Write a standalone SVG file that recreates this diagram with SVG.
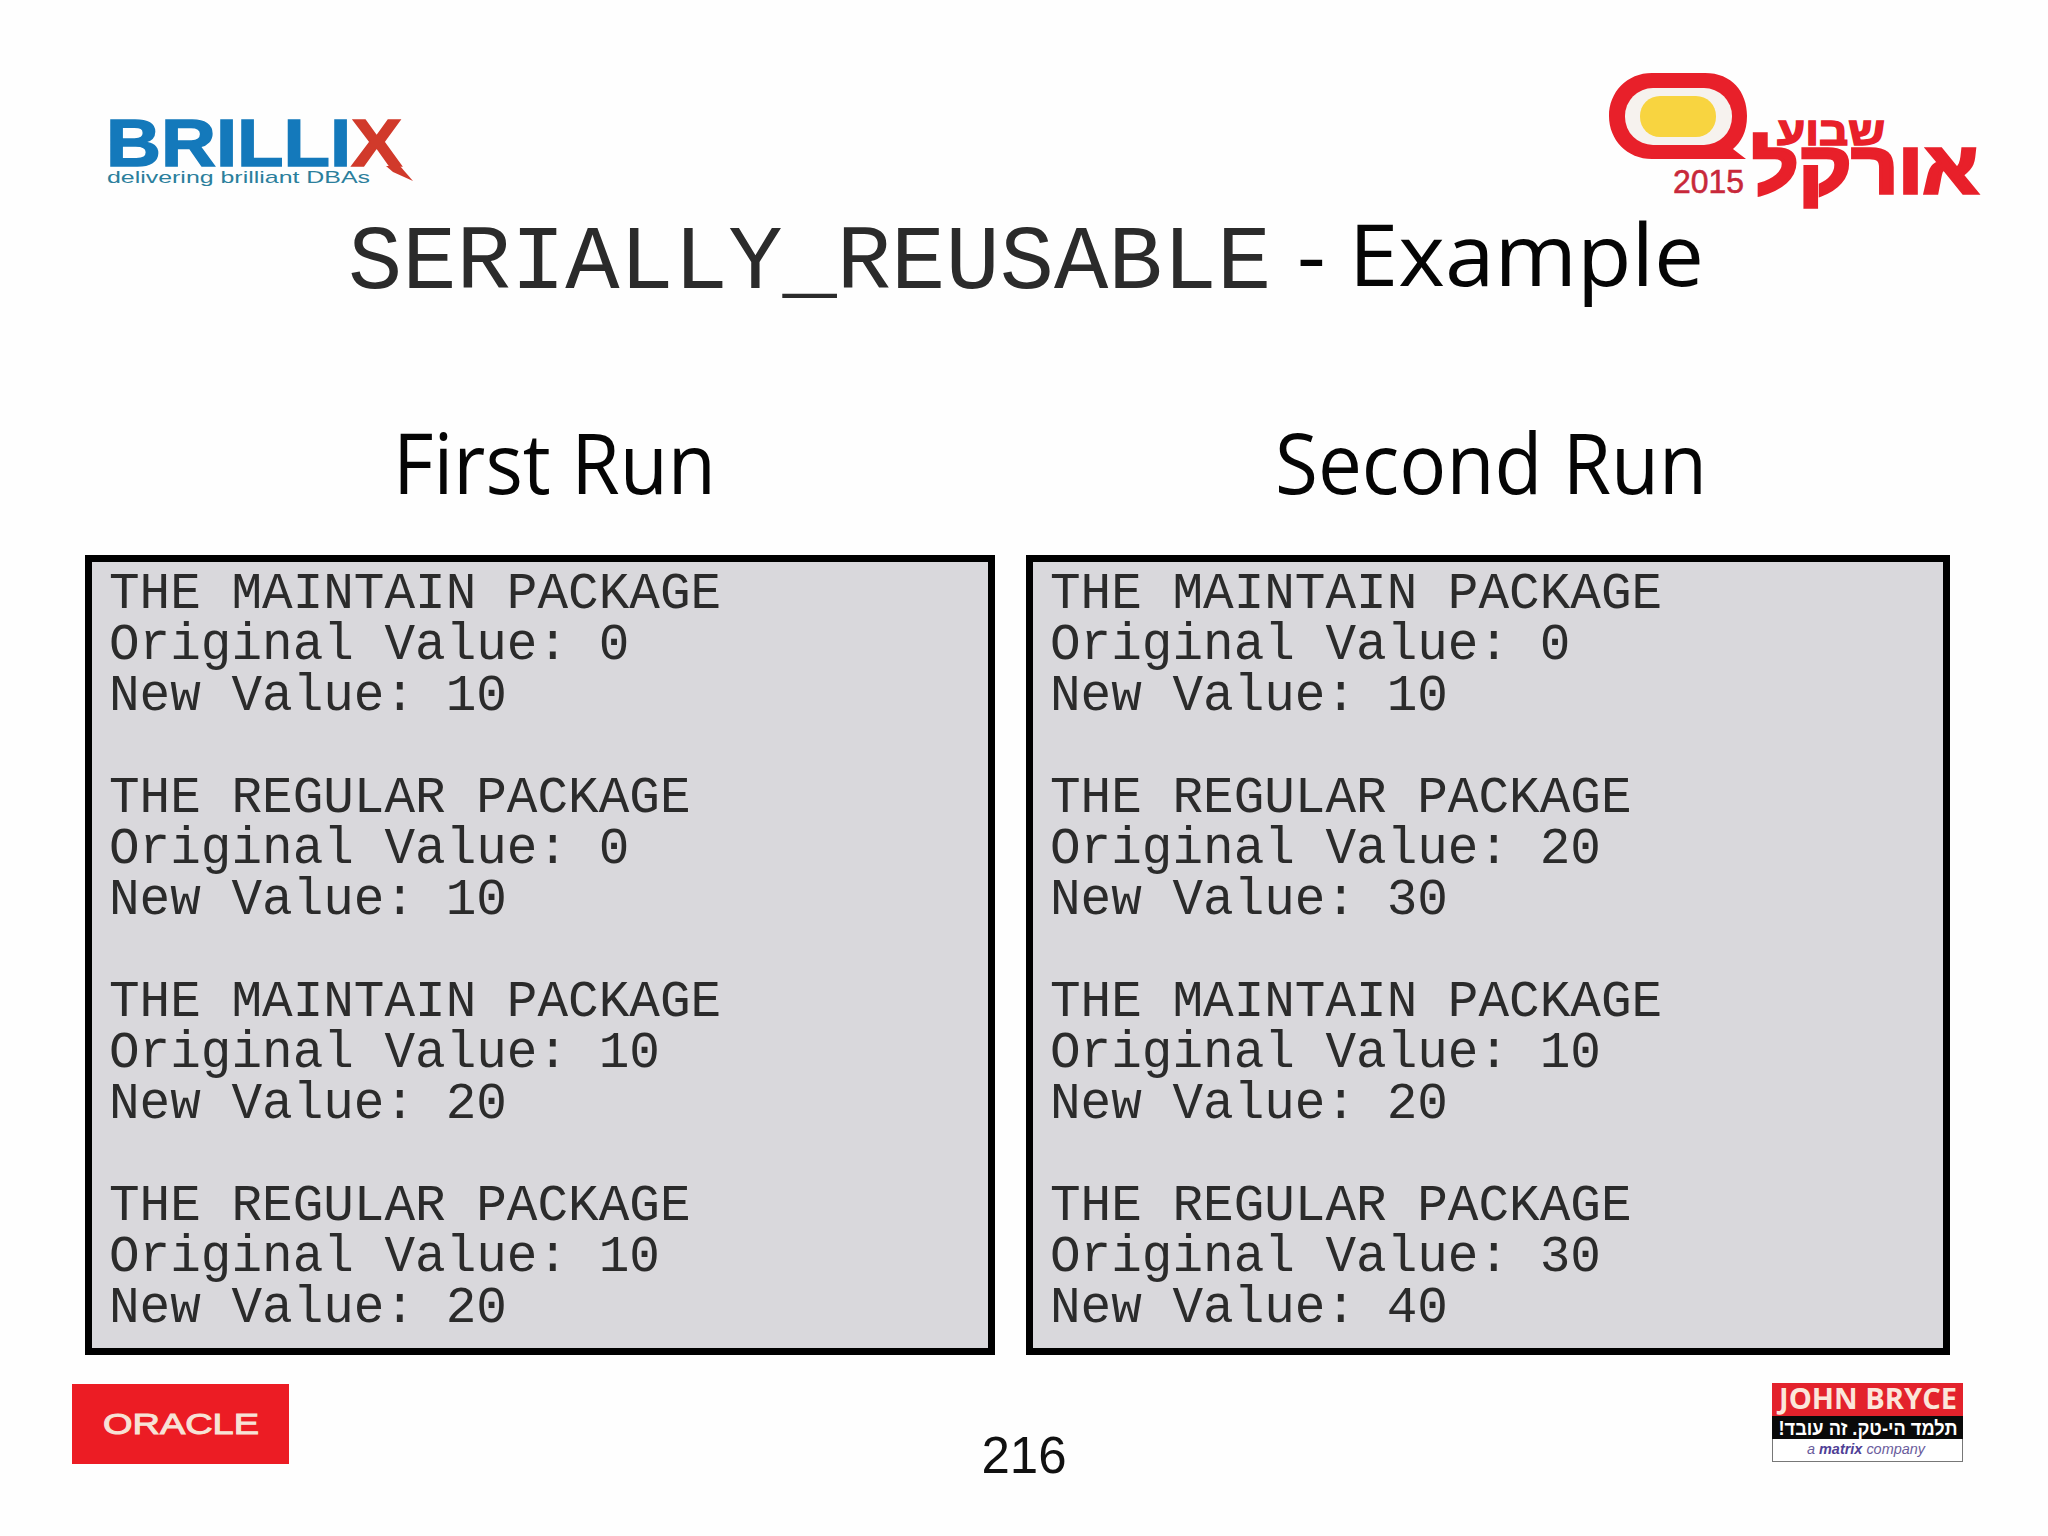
<svg xmlns="http://www.w3.org/2000/svg" width="2048" height="1536" viewBox="0 0 2048 1536">
<style>
.mono{font-family:"Liberation Mono",monospace;fill:#2b2b2b}
.code{font-size:51px;white-space:pre}
.hd{font-family:"Open Sans",sans-serif;fill:#050505}
.box{fill:#d9d8dc;stroke:#000;stroke-width:7}
.b{font-family:"Liberation Sans",sans-serif;font-weight:700}
.n{font-family:"Liberation Sans",sans-serif;font-weight:400}
.red{fill:#e8202a;stroke:#e8202a}
</style>
<rect width="2048" height="1536" fill="#fefefe"/>
<g id="logo-brillix">
<text x="106" y="166" class="b" font-size="67" textLength="296" lengthAdjust="spacingAndGlyphs" fill="#1479bb" stroke="#1479bb" stroke-width="1.500">BRILLI<tspan fill="#d13a2b" stroke="#d13a2b">X</tspan></text>
<polygon points="386,166 400,166 413,181 393,172" fill="#d13a2b"/>
<text x="107" y="183" class="n" font-size="17" textLength="263" lengthAdjust="spacingAndGlyphs" fill="#2b7f9c">delivering brilliant DBAs</text>
</g>
<g id="logo-oracle-week">
<path d="M1652 73H1705C1732 73 1747 92 1747 116C1747 132 1741 142 1733 149L1746 159H1652C1627 159 1609 140 1609 116C1609 92 1627 73 1652 73Z" fill="#e8202a"/>
<rect x="1625" y="88" width="107" height="57" rx="28" fill="#f6f2ee"/>
<rect x="1640" y="96" width="76" height="41" rx="20" fill="#f8d440"/>
<text x="1831" y="145" class="b red" stroke-width="1.500" font-size="40" text-anchor="middle" direction="rtl" textLength="108" lengthAdjust="spacingAndGlyphs">שבוע</text>
<text x="1865" y="193" class="b red" stroke-width="3.500" font-size="72" text-anchor="middle" direction="rtl" textLength="226" lengthAdjust="spacingAndGlyphs">אורקל</text>
<text x="1673" y="193" class="n" font-size="34" textLength="71" lengthAdjust="spacingAndGlyphs" fill="#c8283a" stroke="#c8283a" stroke-width="0.600">2015</text>
</g>
<g id="title">
<text x="348" y="288" class="mono" font-size="90.500">SERIALLY_REUSABLE</text>
<text x="1297" y="286" class="hd" font-size="86" textLength="407" lengthAdjust="spacingAndGlyphs">- Example</text>
</g>
<g id="heading-first"><text x="393" y="494" class="hd" font-size="84" textLength="323" lengthAdjust="spacingAndGlyphs">First Run</text></g>
<g id="heading-second"><text x="1275" y="494" class="hd" font-size="84" textLength="432" lengthAdjust="spacingAndGlyphs">Second Run</text></g>
<g id="box-first">
<rect class="box" x="88.500" y="558.500" width="903" height="793"/>
<g class="mono code">
<text x="109" y="608">THE MAINTAIN PACKAGE</text>
<text x="109" y="659">Original Value: 0</text>
<text x="109" y="710">New Value: 10</text>
<text x="109" y="812">THE REGULAR PACKAGE</text>
<text x="109" y="863">Original Value: 0</text>
<text x="109" y="914">New Value: 10</text>
<text x="109" y="1016">THE MAINTAIN PACKAGE</text>
<text x="109" y="1067">Original Value: 10</text>
<text x="109" y="1118">New Value: 20</text>
<text x="109" y="1220">THE REGULAR PACKAGE</text>
<text x="109" y="1271">Original Value: 10</text>
<text x="109" y="1322">New Value: 20</text>
</g>
</g>
<g id="box-second">
<rect class="box" x="1029.500" y="558.500" width="917" height="793"/>
<g class="mono code">
<text x="1050" y="608">THE MAINTAIN PACKAGE</text>
<text x="1050" y="659">Original Value: 0</text>
<text x="1050" y="710">New Value: 10</text>
<text x="1050" y="812">THE REGULAR PACKAGE</text>
<text x="1050" y="863">Original Value: 20</text>
<text x="1050" y="914">New Value: 30</text>
<text x="1050" y="1016">THE MAINTAIN PACKAGE</text>
<text x="1050" y="1067">Original Value: 10</text>
<text x="1050" y="1118">New Value: 20</text>
<text x="1050" y="1220">THE REGULAR PACKAGE</text>
<text x="1050" y="1271">Original Value: 30</text>
<text x="1050" y="1322">New Value: 40</text>
</g>
</g>
<g id="logo-oracle">
<rect x="72" y="1384" width="217" height="80" fill="#ec1c24"/>
<text x="103" y="1434" class="n" font-size="29" textLength="156" lengthAdjust="spacingAndGlyphs" fill="#f7e2d6" stroke="#f7e2d6" stroke-width="1">ORACLE</text>
</g>
<g id="page-number"><text x="1024" y="1473" class="n" font-size="51" text-anchor="middle" fill="#111">216</text></g>
<g id="logo-john-bryce">
<rect x="1772.500" y="1383.500" width="190" height="78" fill="#fff" stroke="#777"/>
<rect x="1772" y="1383" width="191" height="33" fill="#e3222c"/>
<rect x="1772" y="1416" width="191" height="23" fill="#0a0a0a"/>
<text x="1779" y="1409" font-family="Open Sans,sans-serif" font-weight="700" font-size="28" textLength="178" lengthAdjust="spacingAndGlyphs" fill="#fbe6da">JOHN BRYCE</text>
<text x="1868" y="1435" class="b" font-size="20" text-anchor="middle" direction="rtl" textLength="179" lengthAdjust="spacingAndGlyphs" fill="#fff">תלמד הי-טק. זה עובד!</text>
<text x="1807" y="1454" class="n" font-style="italic" font-size="15" textLength="118" lengthAdjust="spacingAndGlyphs" fill="#6a5c9c">a <tspan font-weight="700" fill="#4f3f96">matrix</tspan> company</text>
</g>
</svg>
